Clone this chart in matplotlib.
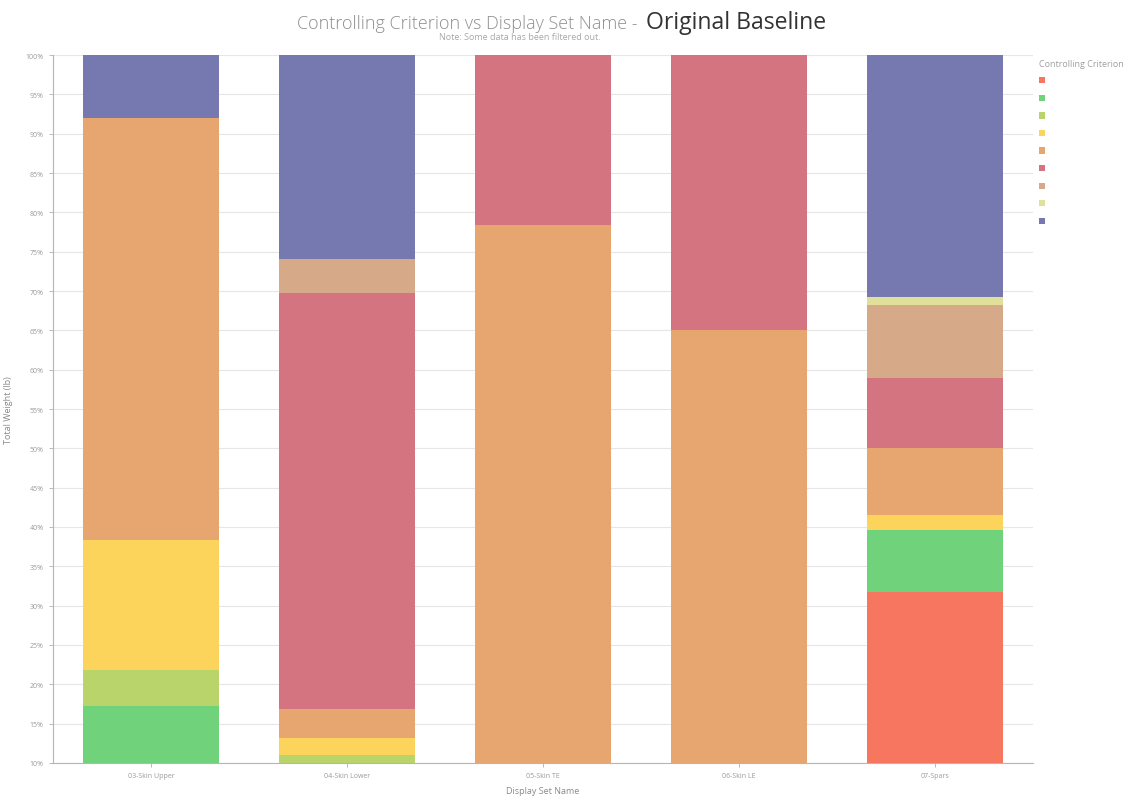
import matplotlib
matplotlib.use("Agg")
import matplotlib.pyplot as plt
from matplotlib.patches import Patch
import numpy as np

plt.rcParams["font.family"] = ["Open Sans", "DejaVu Sans"]

# Display sets along x
display_sets = ["03-Skin Upper", "04-Skin Lower", "05-Skin TE", "06-Skin LE", "07-Spars"]

# Share of total weight (%) per controlling criterion, one value per display set
crit_1 = [0.0, 0.0, 0.0, 0.0, 31.7]
crit_2 = [17.2, 0.0, 0.0, 0.0, 7.9]
crit_3 = [4.6, 11.0, 0.0, 0.0, 0.0]
crit_4 = [16.6, 2.2, 0.0, 0.0, 1.9]
crit_5 = [53.6, 3.6, 78.4, 65.1, 8.5]
crit_6 = [0.0, 52.9, 21.6, 34.9, 9.0]
crit_7 = [0.0, 4.4, 0.0, 0.0, 9.2]
crit_8 = [0.0, 0.0, 0.0, 0.0, 1.0]
crit_9 = [8.0, 25.9, 0.0, 0.0, 30.8]

y_ticks = list(range(10, 101, 5))

series = [crit_1, crit_2, crit_3, crit_4, crit_5, crit_6, crit_7, crit_8, crit_9]
colors = ["#f7765f", "#70d27b", "#b8d46b", "#fcd45b", "#e7a66f",
          "#d47480", "#d6a988", "#dfe09a", "#7579b0"]

fig = plt.figure(figsize=(11.48, 8.03), dpi=100)
ax = fig.add_axes([0.046, 0.0486, 0.854, 0.8816])

x = np.arange(len(display_sets))
bottom = np.zeros(len(display_sets))
for vals, col in zip(series, colors):
    vals = np.array(vals)
    ax.bar(x, vals, bottom=bottom, width=0.695, color=col, linewidth=0, zorder=2)
    bottom += vals

ax.set_ylim(10, 100)
ax.set_xlim(-0.5, 4.5)
ax.set_yticks(y_ticks)
ax.set_yticklabels([f"{v}%" for v in y_ticks])
ax.set_xticks(x)
ax.set_xticklabels(display_sets)
ax.grid(axis="y", color="#e6e6e6", linewidth=0.8, zorder=0)
ax.tick_params(axis="both", labelsize=5, colors="#b0b0b0", length=3, width=0.6,
               labelcolor="#9a9a9a")
for side in ["top", "right"]:
    ax.spines[side].set_visible(False)
for side in ["left", "bottom"]:
    ax.spines[side].set_color("#b5b5b5")
    ax.spines[side].set_linewidth(0.8)

ax.set_ylabel("Total Weight (lb)", fontsize=6.5, color="#8a8a8a")
ax.yaxis.set_label_coords(-0.041, 0.5)
ax.set_xlabel("Display Set Name", fontsize=6.5, color="#8a8a8a")
ax.xaxis.set_label_coords(0.5, -0.033)

# Two-part title
fig.text(0.5595, 0.964, "Controlling Criterion vs Display Set Name - ", ha="right",
         va="baseline", fontsize=13, color="#8f8f8f", fontweight="light")
fig.text(0.5625, 0.964, "Original Baseline", ha="left", va="baseline",
         fontsize=16.6, color="#333333")
fig.text(0.453, 0.9535, "Note: Some data has been filtered out.", ha="center",
         va="center", fontsize=6.5, color="#a8a8a8")

handles = [Patch(facecolor=c, edgecolor="none") for c in colors]
leg = fig.legend(handles, [" "] * len(colors), title="Controlling Criterion",
                 loc="upper left", bbox_to_anchor=(0.902, 0.93), frameon=False,
                 handlelength=0.7, handleheight=0.7, labelspacing=0.95,
                 fontsize=6.5, title_fontsize=6.5, alignment="left",
                 borderaxespad=0, handletextpad=0.4)
leg.get_title().set_color("#a0a0a0")

fig.savefig("out.png", dpi=100)
